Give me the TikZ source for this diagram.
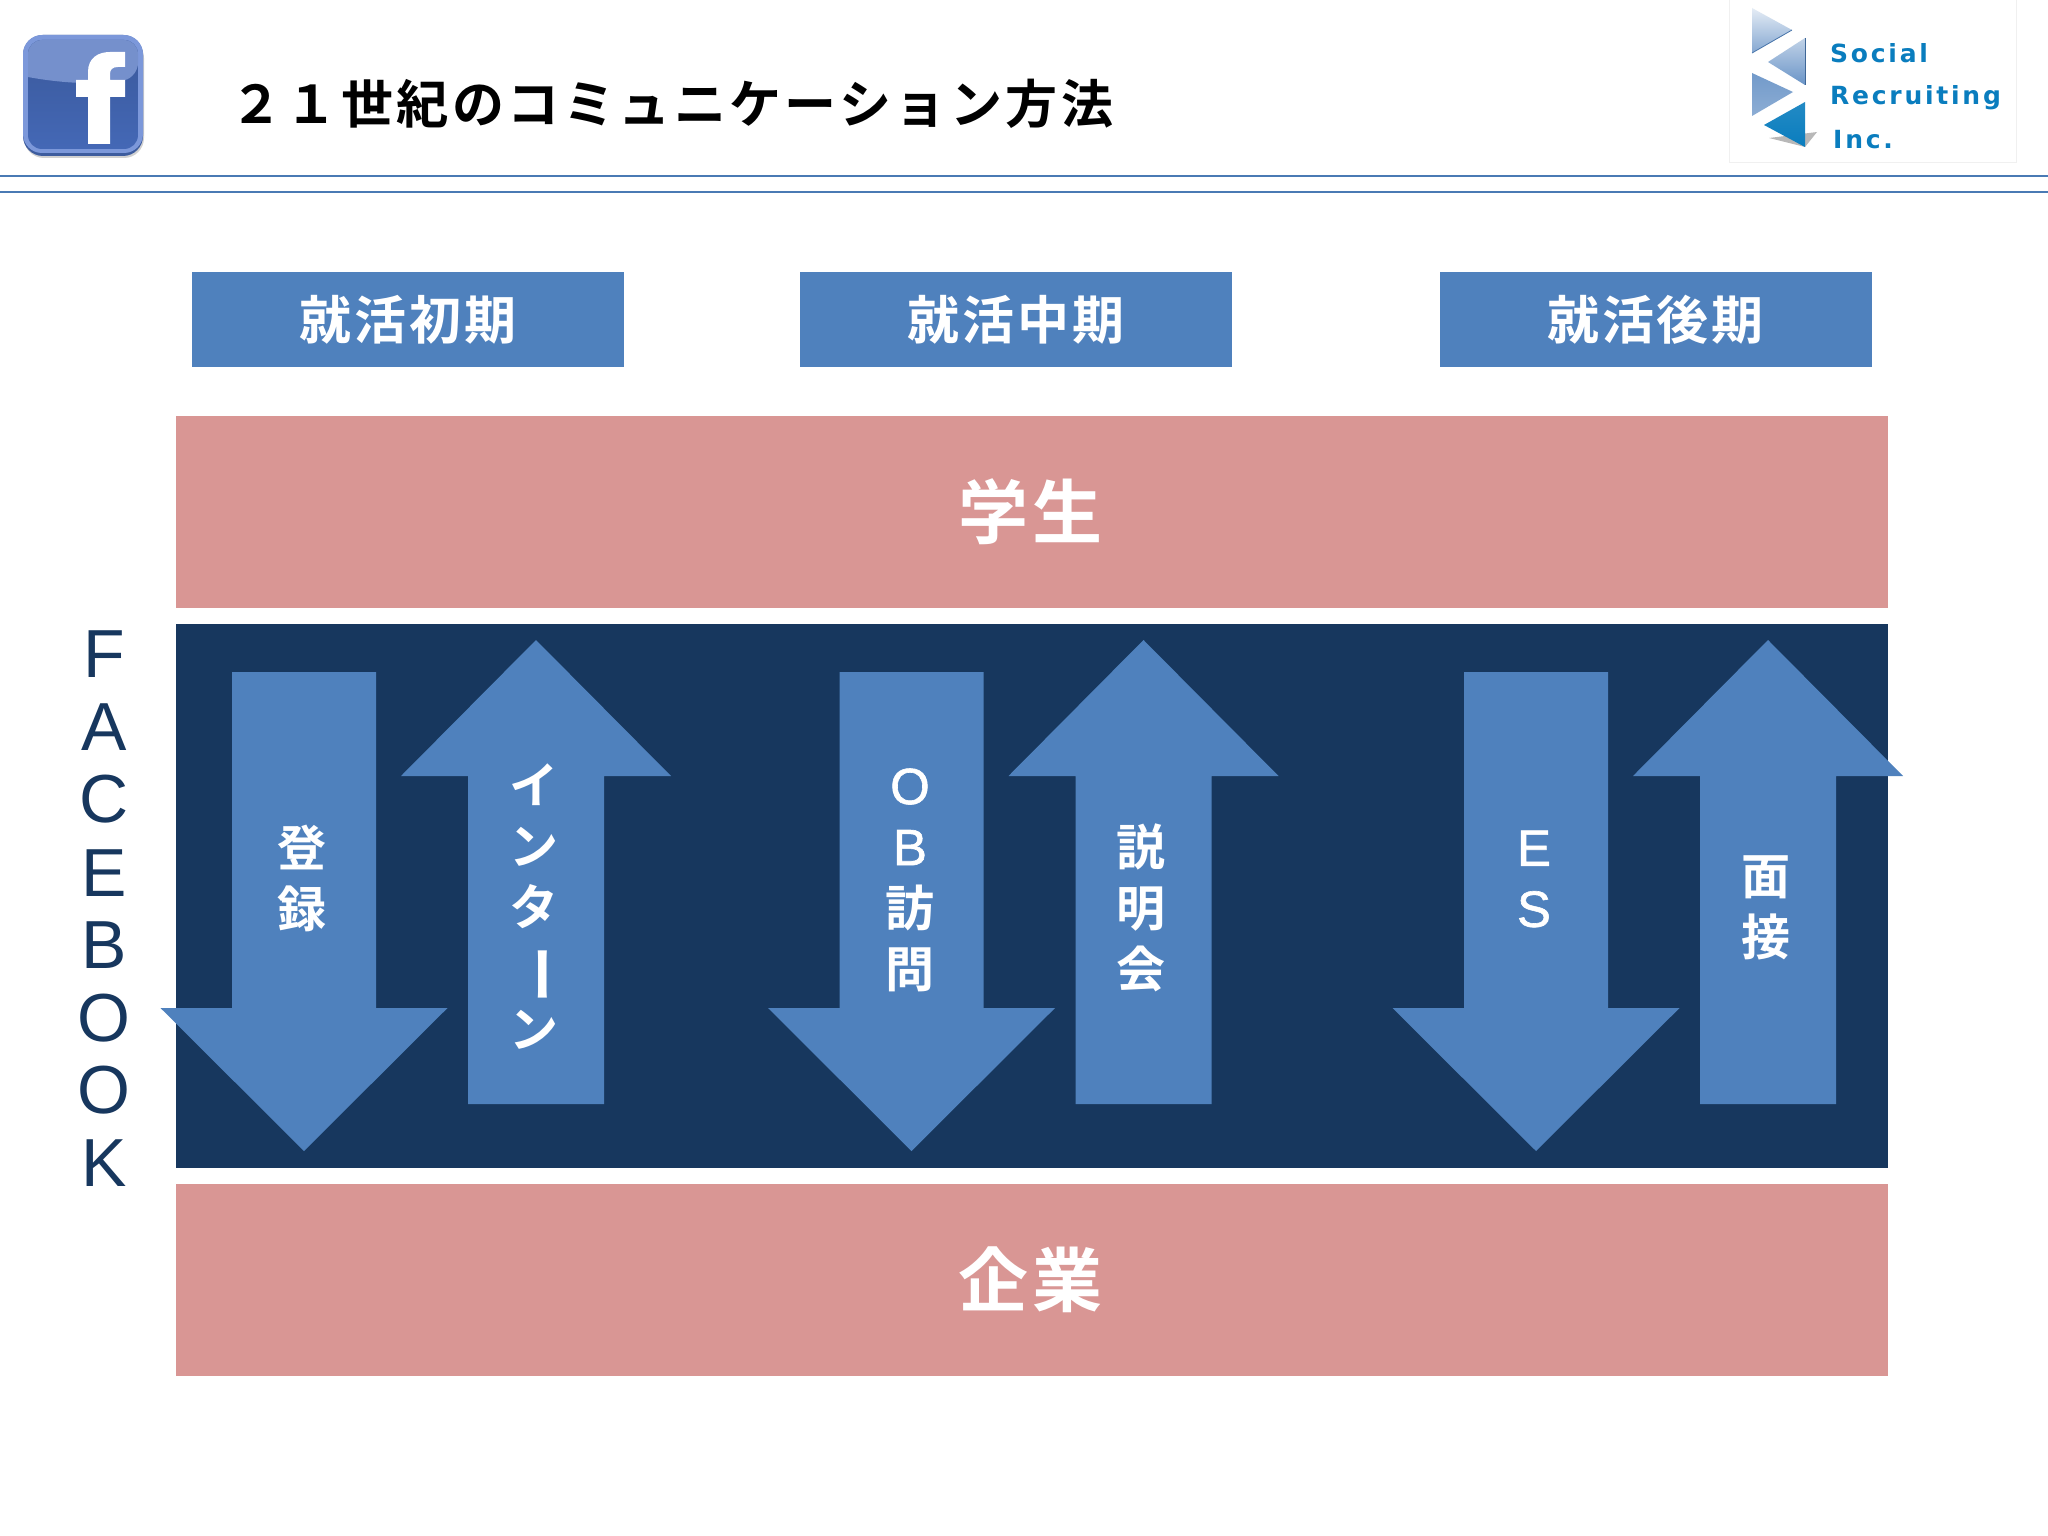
\documentclass[tikz,border=0pt]{standalone}
\usepackage{fontspec}
\setmainfont{Liberation Sans}
\newfontfamily\jpb{Noto Sans CJK JP Bold}
\newfontfamily\jpt[LetterSpace=6.7]{Noto Sans CJK JP Bold}
\newfontfamily\jph[LetterSpace=5.5]{Noto Sans CJK JP Bold}
\newfontfamily\jpk[LetterSpace=7]{Noto Sans CJK JP Bold}
\newfontfamily\logof[LetterSpace=11]{DejaVu Sans Bold}
\newfontfamily\latf[FakeBold=1.2]{Liberation Sans}
\newcommand{\lat}[1]{{\latf\fontsize{51}{61}\selectfont #1}}
\definecolor{navy}{HTML}{17375E}
\definecolor{steel}{HTML}{4F81BD}
\definecolor{rosy}{HTML}{D99694}
\definecolor{rulec}{HTML}{4A7AB4}
\definecolor{logotxt}{HTML}{0A7DBE}
\definecolor{fbring}{HTML}{7C98DA}
\definecolor{fbtop}{HTML}{7590CC}
\definecolor{fblow}{HTML}{4468B6}
\definecolor{fbdark}{HTML}{3D5C9E}
\tikzset{
  x=1pt,y=-1pt,
  hdr/.style={fill=steel,minimum width=432,minimum height=95.5,inner sep=0,text=white,font=\jph\fontsize{52}{52}\selectfont},
  band/.style={fill=rosy,minimum width=1712,minimum height=192,inner sep=0,text=white,font=\jpk\fontsize{70}{70}\selectfont},
  arrowfill/.style={fill=steel},
  vlab/.style={text=white,inner sep=0,align=center,font=\jpb\fontsize{49}{61}\selectfont},
  dashlab/.style={text=white,inner sep=0,font=\jpb\fontsize{58}{58}\selectfont},
  fbletter/.style={text=navy,inner sep=0,font=\fontsize{68}{68}\selectfont},
  logolab/.style={text=logotxt,anchor=west,inner sep=0,font=\logof\fontsize{25}{25}\selectfont},
  titlelab/.style={anchor=west,inner sep=0,text=black,font=\jpt\fontsize{52}{52}\selectfont}
}
\begin{document}
\begin{tikzpicture}
\useasboundingbox (0,0) rectangle (2048,1536);
\fill[white] (0,0) rectangle (2048,1536);
% facebook icon
\fill[black!18,rounded corners=20] (24,38) rectangle (144,158);
\fill[fbdark,rounded corners=20] (23,35) rectangle (143,156);
\fill[fbring,rounded corners=19] (23,35) rectangle (143,153);
\shade[top color=fblow!85!black,bottom color=fblow,rounded corners=14] (28,40) rectangle (138,149);
\fill[fbtop,rounded corners=14] (28,77) -- (28,40) -- (138,40) -- (138,77) [sharp corners] .. controls (105,85) and (65,84) .. (28,77) -- cycle;
\fill[white] (88,144) -- (88,97) -- (76,97) -- (76,80) -- (88,80) -- (88,72) .. controls (88,58) and (98,52) .. (110,52) -- (125,52) -- (125,67) -- (118,67) .. controls (112,67) and (110,70) .. (110,74) -- (110,80) -- (125,80) -- (125,97) -- (110,97) -- (110,144) -- cycle;
% title
\node[titlelab] (title) at (230,104) {２１世紀のコミュニケーション方法};
% rules
\draw[rulec,line width=1.7] (0,176) -- (2048,176);
\draw[rulec,line width=1.7] (0,192) -- (2048,192);
% logo
\draw[black!6,line width=1] (1729,0) rectangle (2016,163);
\shade[top color=steel!15!white,bottom color=steel!70!white] (1752,8) -- (1792,30) -- (1752,53) -- cycle;
\draw[steel!90!black,line width=0.8] (1792,30) -- (1752,53);
\shade[top color=steel!35!white,bottom color=steel!85!white] (1805,38) -- (1805,85) -- (1768,62) -- cycle;
\draw[steel!80!black,line width=0.8] (1805,38) -- (1805,85);
\shade[top color=steel!80!white,bottom color=steel!65!white] (1752,73) -- (1793,92) -- (1752,116) -- cycle;
\fill[black!28] (1769,138) -- (1805,147) -- (1817,132) -- cycle;
\shade[top color=logotxt!90!white,bottom color=logotxt] (1805,102) -- (1805,147) -- (1764,125) -- cycle;
\node[logolab] (l1) at (1830,53) {Social};
\node[logolab] (l2) at (1830,98) {Recruiting};
\node[logolab] (l3) at (1833,140) {Inc.};
% headers
\node[hdr] (h1) at (408,319.5) {就活初期};
\node[hdr] (h2) at (1016,319.5) {就活中期};
\node[hdr] (h3) at (1655.5,319.5) {就活後期};
% bands
\node[band] (stu) at (1032,512) {\hspace*{-3pt}学生};
\node[band] (co) at (1032,1280) {\hspace*{-3pt}企業};
\fill[navy] (176,624) rectangle (1888,1168);
% arrows
\foreach \dx in {0,607.5,1232}{
 \fill[arrowfill] ({232+\dx},672) -- ({376+\dx},672) -- ({376+\dx},1008) -- ({447.5+\dx},1008) -- ({304+\dx},1151) -- ({160.5+\dx},1008) -- ({232+\dx},1008) -- cycle;
 \fill[arrowfill] ({536+\dx},640) -- ({671+\dx},776) -- ({604+\dx},776) -- ({604+\dx},1104) -- ({468+\dx},1104) -- ({468+\dx},776) -- ({401+\dx},776) -- cycle;
}
\node[vlab] (a1) at (302,878) {登\\録};
\node[vlab] (a2) at (534,907) {イ\\ン\\タ\\\phantom{タ}\\ン};
\node[dashlab,rotate=-90] (a2b) at (534,974) {ー};
\node[vlab] (a3) at (910,880) {\lat{O}\\\lat{B}\\訪\\問};
\node[vlab] (a4) at (1141,908) {説\\明\\会};
\node[vlab] (a5) at (1534,879) {\lat{E}\\\lat{S}};
\node[vlab] (a6) at (1766,908) {面\\接};
% FACEBOOK
\foreach \ch/\yy/\nm in {F/654/f1,A/727/f2,C/799/f3,E/873/f4,B/945/f5,O/1018/f6,O/1090/f7,K/1163/f8}
  \node[fbletter] (\nm) at (104,\yy) {\ch};
\end{tikzpicture}
\end{document}
